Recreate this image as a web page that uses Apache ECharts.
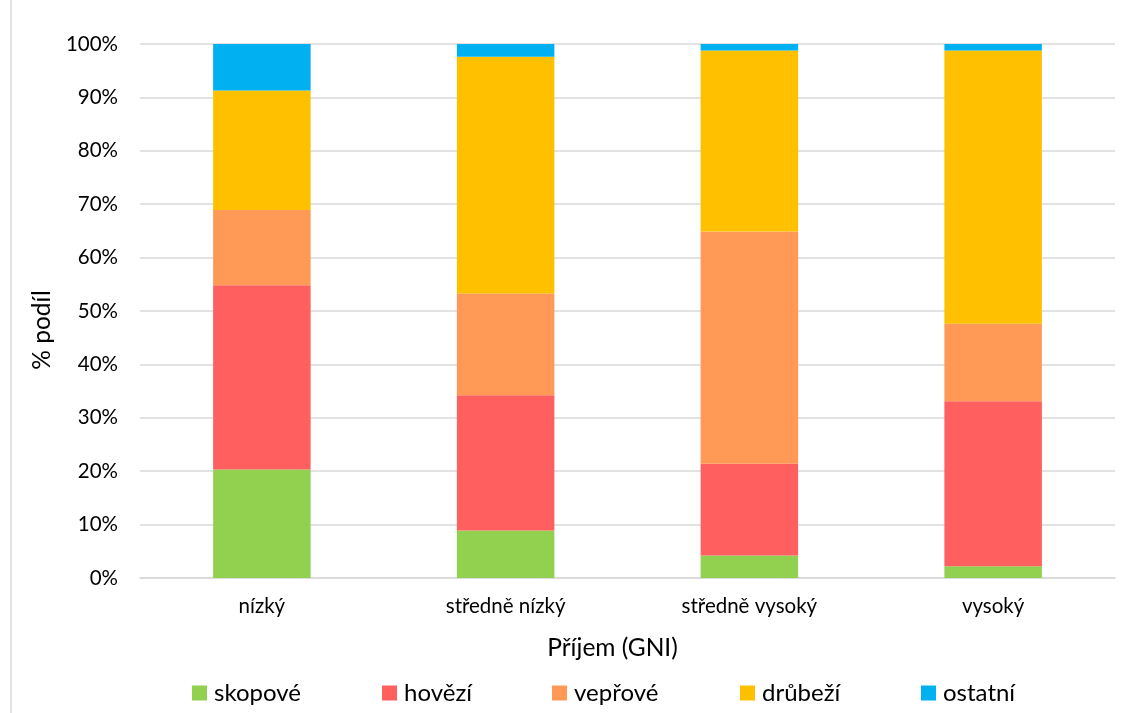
<!DOCTYPE html>
<html><head><meta charset="utf-8">
<script src="https://cdn.jsdelivr.net/npm/echarts@6/dist/echarts.min.js"></script>
<style>html,body{margin:0;padding:0;background:#fff}#c{width:1125px;height:713px}</style>
</head><body><div id="c"></div>
<script>
const categories = ['nízký', 'středně nízký', 'středně vysoký', 'vysoký'];
const seriesNames = ['skopové', 'hovězí', 'vepřové', 'drůbeží', 'ostatní'];
const skopove = [20.3, 8.9, 4.2, 2.2];
const hovezi = [34.5, 25.3, 17.2, 30.9];
const veprove = [14.1, 19.1, 43.5, 14.5];
const drubezi = [22.4, 44.3, 33.9, 51.2];
const ostatni = [8.7, 2.4, 1.2, 1.2];
const yTicks = [0, 10, 20, 30, 40, 50, 60, 70, 80, 90, 100];

const values = [skopove, hovezi, veprove, drubezi, ostatni];
const colors = ['#92d050', '#ff5f5f', '#ff9955', '#ffc000', '#00b0f0'];
const font = 'Lato, "Open Sans", sans-serif';
const legendLefts = [187, 377, 547, 735, 916];

const chart = echarts.init(document.getElementById('c'), null, {renderer: 'canvas'});
chart.setOption({
  animation: false,
  backgroundColor: '#fff',
  grid: {left: 140, right: 10, top: 44, bottom: 135, containLabel: false},
  legend: seriesNames.map((n, i) => ({
    data: [n], left: legendLefts[i], top: 676, itemWidth: 15, itemHeight: 15, itemGap: 4,
    icon: 'rect', textStyle: {fontFamily: font, fontSize: 24, color: '#000', padding: [0, 0, 0, 2]}
  })),
  xAxis: {
    type: 'category', data: categories,
    name: 'Příjem (GNI)', nameLocation: 'middle', nameGap: 58,
    nameTextStyle: {fontFamily: font, fontSize: 24.5, color: '#000', padding: [0, 30, 0, 0]},
    axisLine: {lineStyle: {color: '#d9d9d9', width: 1.5}},
    axisTick: {show: false},
    axisLabel: {fontFamily: font, fontSize: 20.5, color: '#000', margin: 18}
  },
  yAxis: {
    type: 'value', min: 0, max: 100, interval: 10,
    name: '% podíl', nameLocation: 'middle', nameGap: 73, nameRotate: 90,
    nameTextStyle: {fontFamily: font, fontSize: 24.5, color: '#000', padding: [0, 38, 0, 0]},
    axisLine: {show: false}, axisTick: {show: false},
    axisLabel: {fontFamily: font, fontSize: 20.5, color: '#000', margin: 22,
      formatter: v => yTicks.includes(v) ? v + '%' : ''},
    splitLine: {lineStyle: {color: '#d9d9d9', width: 1.5}}
  },
  series: seriesNames.map((n, i) => ({
    name: n, type: 'bar', stack: 'total', data: values[i], barWidth: '40%',
    itemStyle: {color: colors[i]}
  })),
  graphic: [{type: 'line', shape: {x1: 11, y1: 0, x2: 11, y2: 713}, style: {stroke: '#d9d9d9', lineWidth: 1.5}}]
});
</script></body></html>
